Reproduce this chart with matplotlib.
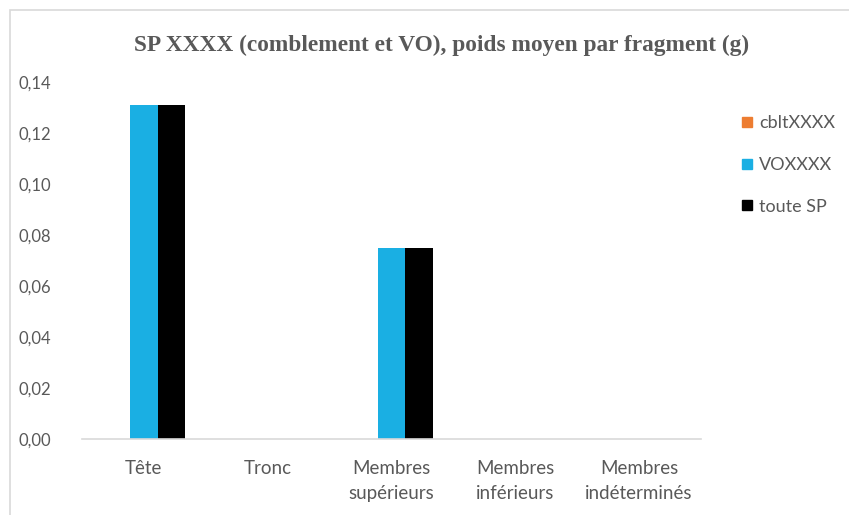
import matplotlib
matplotlib.use("Agg")
import matplotlib.pyplot as plt
import numpy as np
from matplotlib.patches import Rectangle
from matplotlib.lines import Line2D

categories = ["Tête", "Tronc", "Membres\nsupérieurs", "Membres\ninférieurs", "Membres\nindéterminés"]
series_names = ["cbltXXXX", "VOXXXX", "toute SP"]
cblt = [0, 0, 0, 0, 0]
vo = [0.131, 0, 0.075, 0, 0]
toute = [0.131, 0, 0.075, 0, 0]
yticks = [0.00, 0.02, 0.04, 0.06, 0.08, 0.10, 0.12, 0.14]
colors = ["#ED7D31", "#1AAFE3", "#000000"]

W, H = 849, 515
fig = plt.figure(figsize=(W / 100, H / 100), dpi=100)
fig.patch.set_facecolor("white")

# chart border (left and top visible)
fig.add_artist(Rectangle((10 / W, -0.1), 1.2, 1 - 10 / H + 0.1, transform=fig.transFigure,
                         fill=False, edgecolor="#D9D9D9", linewidth=1.2))

ax = fig.add_axes([82 / W, 1 - 439 / H, (701 - 82) / W, (439 - 82) / H])
x = np.arange(len(categories))
bw = 0.222
for i, (vals, c) in enumerate(zip([cblt, vo, toute], colors)):
    ax.bar(x + (i - 1) * bw, vals, width=bw, color=c, label=series_names[i], zorder=2)

ax.set_xlim(-0.5, len(categories) - 0.5)
ax.set_ylim(0, 0.14)
ax.set_yticks(yticks)
ax.set_yticklabels([f"{v:.2f}".replace(".", ",") for v in yticks])
ax.set_xticks(x)
ax.set_xticklabels(categories, linespacing=1.55, va="top")
for s in ["top", "right", "left"]:
    ax.spines[s].set_visible(False)
ax.spines["bottom"].set_color("#D9D9D9")
ax.spines["bottom"].set_linewidth(1.2)
ax.tick_params(axis="both", length=0, colors="#595959")
ax.tick_params(axis="y", pad=22, labelsize=12)
ax.tick_params(axis="x", pad=15, labelsize=13.5)
for lab in ax.get_xticklabels() + ax.get_yticklabels():
    lab.set_fontfamily("Lato")
    lab.set_color("#595959")

fig.text(442 / W, 1 - 45 / H, "SP XXXX (comblement et VO), poids moyen par fragment (g)",
         ha="center", va="center", fontfamily="Liberation Serif", fontweight="bold",
         fontsize=16.8, color="#595959")

handles = [Line2D([0], [0], marker="s", linestyle="none", markersize=7.5,
                  markerfacecolor=c, markeredgecolor=c) for c in colors]
fig.legend(handles, series_names, loc="upper left", bbox_to_anchor=(722 / W, 1 - 99 / H),
           frameon=False, handletextpad=0.15, labelspacing=1.42, handlelength=1.0,
           prop={"family": "Lato", "size": 13}, labelcolor="#595959")

fig.savefig("out.png", dpi=100, facecolor="white")
